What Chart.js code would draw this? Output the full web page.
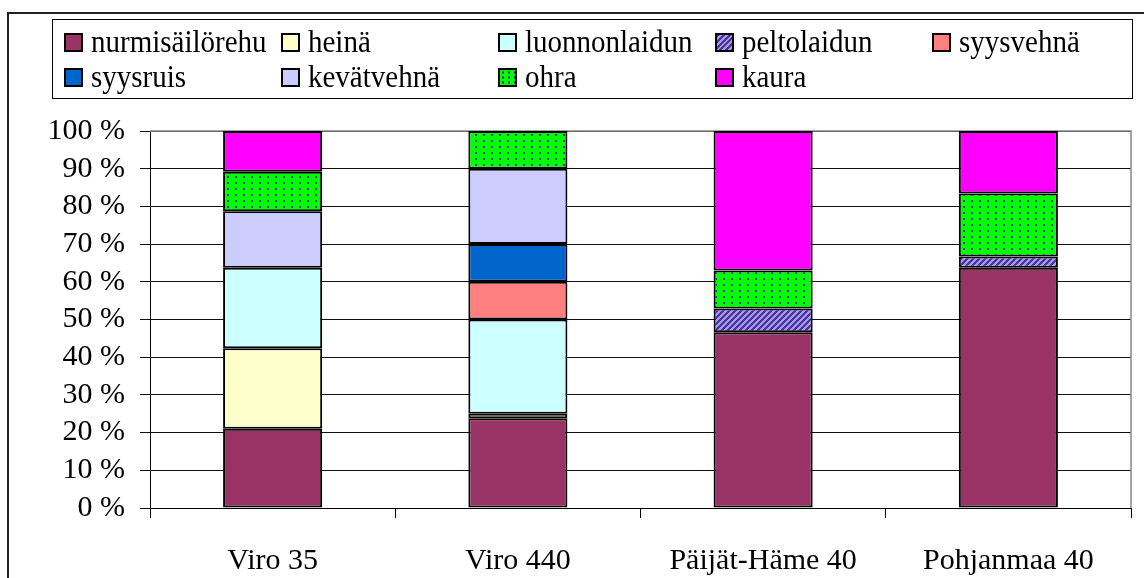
<!DOCTYPE html>
<html><head><meta charset="utf-8">
<script src="https://cdn.jsdelivr.net/npm/chart.js@4/dist/chart.umd.min.js"></script>
<style>
html,body{margin:0;padding:0;background:#fff;overflow:hidden;}
#wrap{position:relative;width:1144px;height:578px;overflow:hidden;}
#frame{position:absolute;left:7px;top:12px;width:1300px;height:700px;border-left:2px solid #222;border-top:2px solid #222;}
#chart{position:absolute;left:0;top:0;}
#legend{position:absolute;left:52px;top:19px;width:1081px;height:80px;border:1.5px solid #000;box-sizing:border-box;}
.item{position:absolute;font-family:"Liberation Serif","Times New Roman",serif;font-size:29px;line-height:29px;color:#000;white-space:nowrap;transform:scaleY(1.08);transform-origin:0 80%;}
.sw{position:absolute;width:19px;height:19px;box-sizing:border-box;border:2px solid #000;}
</style></head>
<body>
<div id="wrap">
<div id="frame"></div>
<canvas id="chart" width="1144" height="578"></canvas>
<div id="legend"></div>
</div>
<script>
// ---- data ----
const categories = ['Viro 35', 'Viro 440', 'Päijät-Häme 40', 'Pohjanmaa 40'];
const seriesNames = ['nurmisäilörehu', 'heinä', 'luonnonlaidun', 'peltolaidun', 'syysvehnä', 'syysruis', 'kevätvehnä', 'ohra', 'kaura'];
const nurmisailorehu = [21.0, 23.8, 46.6, 63.7];
const heina          = [21.4, 1.2, null, null];
const luonnonlaidun  = [21.3, 25.0, null, null];
const peltolaidun    = [null, null, 6.3, 3.0];
const syysvehna      = [null, 10.0, null, null];
const syysruis       = [null, 10.0, null, null];
const kevatvehna     = [15.0, 20.0, null, null];
const ohra           = [10.5, 10.0, 10.1, 16.7];
const kaura          = [10.8, null, 37.0, 16.6];
const yTicks = [0, 10, 20, 30, 40, 50, 60, 70, 80, 90, 100];

const seriesValues = [nurmisailorehu, heina, luonnonlaidun, peltolaidun, syysvehna, syysruis, kevatvehna, ohra, kaura];

// ---- styles ----
function stripePattern() {
  const c = document.createElement('canvas'); c.width = 6; c.height = 6;
  const g = c.getContext('2d');
  g.fillStyle = '#9999FF'; g.fillRect(0, 0, 6, 6);
  g.fillStyle = '#553388';
  for (let y = 0; y < 6; y++) for (let x = 0; x < 6; x++) if ((x + y) % 6 < 3) g.fillRect(x, y, 1, 1);
  return g.createPattern(c, 'repeat');
}
function dotPattern() {
  const c = document.createElement('canvas'); c.width = 8; c.height = 6;
  const g = c.getContext('2d');
  g.fillStyle = '#00FF00'; g.fillRect(0, 0, 8, 6);
  g.fillStyle = '#333388'; g.fillRect(3, 2, 2, 2);
  return g.createPattern(c, 'repeat');
}
const fills = ['#993366', '#FFFFCC', '#CCFFFF', stripePattern(), '#FF8080', '#0066CC', '#CCCCFF', dotPattern(), '#FF00FF'];
const swatchCss = ['#993366', '#FFFFCC', '#CCFFFF',
  'repeating-linear-gradient(135deg,#553388 0 2px,#9999FF 2px 4px)',
  '#FF8080', '#0066CC', '#CCCCFF',
  'radial-gradient(circle,#333388 1px,transparent 1.3px) 0 0/6px 5px,#00FF00',
  '#FF00FF'];

// ---- legend (HTML) ----
const colX = [64, 281, 498, 715, 932];
const rowY = [33, 68];
const wrap = document.getElementById('wrap');
seriesNames.forEach((n, i) => {
  const col = i % 5, row = Math.floor(i / 5);
  const sw = document.createElement('div'); sw.className = 'sw';
  sw.style.left = colX[col] + 'px'; sw.style.top = rowY[row] + 'px';
  sw.style.background = swatchCss[i];
  wrap.appendChild(sw);
  const t = document.createElement('div'); t.className = 'item'; t.textContent = n;
  t.style.left = (colX[col] + 27) + 'px'; t.style.top = (rowY[row] - 5) + 'px';
  wrap.appendChild(t);
});

const FONT = '"Liberation Serif","Times New Roman",serif';

const plotBorder = {
  id: 'plotBorder',
  beforeDatasetsDraw(chart) {
    const a = chart.chartArea, c = chart.ctx;
    c.save(); c.strokeStyle = '#888'; c.lineWidth = 1.5;
    c.beginPath();
    c.moveTo(a.left, a.top); c.lineTo(a.right, a.top); c.lineTo(a.right, a.bottom);
    c.stroke(); c.restore();
  }
};

new Chart(document.getElementById('chart'), {
  type: 'bar',
  data: {
    labels: categories,
    datasets: seriesNames.map((n, i) => ({
      label: n, data: seriesValues[i], backgroundColor: fills[i],
      borderColor: '#000', borderWidth: 2, borderSkipped: false,
      barPercentage: 0.404, categoryPercentage: 1
    }))
  },
  options: {
    responsive: false, animation: false,
    layout: { padding: { left: 0, top: 131, right: 13, bottom: 0 } },
    plugins: { legend: { display: false }, tooltip: { enabled: false } },
    scales: {
      x: {
        stacked: true,
        grid: { offset: true, drawOnChartArea: false, color: '#000', tickLength: 10, lineWidth: 1 },
        border: { color: '#000', width: 1 },
        ticks: { font: { family: FONT, size: 30 }, color: '#000', padding: 25, maxRotation: 0, autoSkip: false },
        afterFit: s => { s.height = 70; }
      },
      y: {
        stacked: true, min: 0, max: 100,
        afterBuildTicks: s => { s.ticks = yTicks.map(v => ({ value: v })); },
        grid: { color: '#111', tickLength: 10, lineWidth: 1 },
        border: { color: '#000', width: 1 },
        ticks: { font: { family: FONT, size: 30 }, color: '#000', padding: 15, autoSkip: false, callback: v => v + ' %' },
        afterFit: s => { s.width = 150; }
      }
    }
  },
  plugins: [plotBorder]
});
</script>
</body></html>
